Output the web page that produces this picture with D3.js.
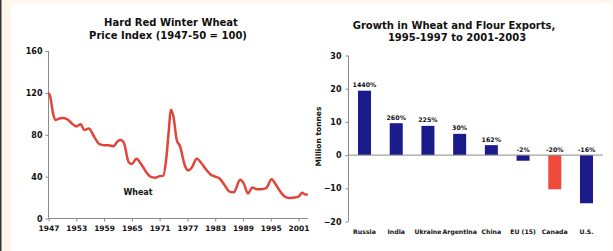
<!DOCTYPE html>
<html>
<head>
<meta charset="utf-8">
<script src="https://cdn.jsdelivr.net/npm/d3@7"></script>
<style>
  html, body { margin: 0; padding: 0; background: #fef6ea; }
  svg { display: block; }
  text { font-family: "DejaVu Sans", Verdana, sans-serif; font-weight: bold; fill: #111; }
</style>
</head>
<body>
<script>
// ---- Data: left chart (Hard Red Winter Wheat price index) ----
const priceYears = [1947, 1947.4, 1948, 1948.5, 1949, 1950, 1951, 1952, 1953, 1954, 1954.7, 1955.7, 1957, 1958, 1959, 1960, 1961, 1962, 1962.6, 1963.3, 1964.3, 1965, 1966, 1967, 1968, 1969, 1970, 1971, 1971.8, 1972.4, 1973, 1973.4, 1974, 1974.7, 1975.4, 1976.5, 1977.2, 1978, 1979, 1980, 1981, 1982, 1983, 1984, 1985, 1986, 1987, 1988.4, 1989.1, 1990.1, 1991, 1992, 1993, 1994, 1995.2, 1996, 1997, 1998, 1999, 2000, 2001, 2001.8, 2002.4, 2003];
const priceValues = [120, 116, 100, 94, 95, 96, 95, 91, 88, 90, 84.5, 86, 77, 71, 70, 70, 69, 74, 75, 72, 54, 52, 57, 52, 45, 40, 39, 40.5, 41, 56, 85, 104, 97, 75, 69, 50, 46, 49, 57, 53, 47, 42, 40, 38, 32, 26, 25, 37, 34, 24, 29.5, 28, 28, 29, 37.5, 33, 26, 21, 19.5, 20, 21, 24.5, 23, 23];
const priceTicksY = [0, 40, 80, 120, 160];
const priceTicksX = [1947, 1953, 1959, 1965, 1971, 1977, 1983, 1989, 1995, 2001];

// ---- Data: right chart (export growth) ----
const countries = ["Russia", "India", "Ukraine", "Argentina", "China", "EU (15)", "Canada", "U.S."];
const exportChange = [19.4, 9.6, 8.8, 6.4, 3.0, -1.7, -10.3, -14.5];
const pctLabels = ["1440%", "260%", "225%", "30%", "162%", "-2%", "-20%", "-16%"];
const exportTicksY = [-20, -10, 0, 10, 20, 30];

const W = 613, H = 251;
const svg = d3.select("body").append("svg").attr("width", W).attr("height", H);

// background frame
svg.append("rect").attr("x", 0).attr("y", 0).attr("width", W).attr("height", H).attr("fill", "#fef6ea");
svg.append("rect").attr("x", 0).attr("y", 0).attr("width", 1.5).attr("height", H).attr("fill", "#333");
svg.append("rect").attr("x", 11).attr("y", 3).attr("width", 601).attr("height", H - 3).attr("fill", "#ffffff");

const axisColor = "#8a8a8a";

// ================= LEFT CHART =================
const xL = d3.scaleLinear().domain([1947, 2003]).range([48.5, 307.8]);
const yL = d3.scaleLinear().domain([0, 160]).range([218.5, 51]);

const gL = svg.append("g");
gL.append("text").attr("x", 171).attr("y", 25.5).attr("text-anchor", "middle").attr("font-size", 10).text("Hard Red Winter Wheat");
gL.append("text").attr("x", 168).attr("y", 38.5).attr("text-anchor", "middle").attr("font-size", 10).text("Price Index (1947-50 = 100)");

const axLY = gL.append("g").attr("transform", `translate(${xL(1947)},0)`)
  .call(d3.axisLeft(yL).tickValues(priceTicksY).tickSize(3).tickPadding(3).tickFormat(d3.format("d")));
const axLX = gL.append("g").attr("transform", `translate(0,${yL(0)})`)
  .call(d3.axisBottom(xL).tickValues(priceTicksX).tickSize(3).tickPadding(4).tickFormat(d3.format("d")));
[axLY, axLX].forEach(a => {
  a.select(".domain").attr("stroke", axisColor);
  a.selectAll(".tick line").attr("stroke", axisColor);
  a.selectAll(".tick text").attr("font-family", "DejaVu Sans, sans-serif").attr("font-weight", "bold").attr("fill", "#111");
});
axLY.selectAll(".tick text").attr("font-size", 8);
axLX.selectAll(".tick text").attr("font-size", 7.5);
axLY.select(".domain").attr("d", `M0,${yL(0)}V${yL(160)}`);
axLX.select(".domain").attr("d", `M${xL(1947)},0H${xL(2003)}`);

const line = d3.line().x((d, i) => xL(priceYears[i])).y(d => yL(d)).curve(d3.curveMonotoneX);
gL.append("path").datum(priceValues).attr("d", line)
  .attr("fill", "none").attr("stroke", "#e2443a").attr("stroke-width", 2.5).attr("stroke-linejoin", "round");

gL.append("text").attr("x", 138).attr("y", 194.5).attr("text-anchor", "middle").attr("font-size", 8).text("Wheat");

// ================= RIGHT CHART =================
const xR = d3.scaleBand().domain(countries).range([348.5, 602.5]).paddingInner(0.59).paddingOuter(0.3);
const yR = d3.scaleLinear().domain([-20, 30]).range([221.5, 55.5]);

const gR = svg.append("g");
gR.append("text").attr("x", 454).attr("y", 28.5).attr("text-anchor", "middle").attr("font-size", 10).text("Growth in Wheat and Flour Exports,");
gR.append("text").attr("x", 457).attr("y", 41).attr("text-anchor", "middle").attr("font-size", 10).text("1995-1997 to 2001-2003");

const axRY = gR.append("g").attr("transform", `translate(348.5,0)`)
  .call(d3.axisLeft(yR).tickValues(exportTicksY).tickSize(3).tickPadding(4).tickFormat(d3.format("d")));
axRY.select(".domain").attr("stroke", axisColor).attr("d", `M0,${yR(-20)}V${yR(30)}`);
axRY.selectAll(".tick line").attr("stroke", axisColor);
axRY.selectAll(".tick text").attr("font-family", "DejaVu Sans, sans-serif").attr("font-weight", "bold").attr("font-size", 8).attr("fill", "#111");

gR.append("text").attr("transform", `translate(320.5,136.5) rotate(-90)`).attr("text-anchor", "middle").attr("font-size", 7.5).text("Million tonnes");

gR.selectAll("rect.bar").data(exportChange).enter().append("rect")
  .attr("class", "bar")
  .attr("x", (d, i) => xR(countries[i]))
  .attr("width", xR.bandwidth())
  .attr("y", d => yR(Math.max(0, d)))
  .attr("height", d => Math.abs(yR(d) - yR(0)))
  .attr("fill", (d, i) => countries[i] === "Canada" ? "#ef4a3c" : "#1b1b8c");

// zero line
gR.append("line").attr("x1", 348.5).attr("x2", 603).attr("y1", yR(0)).attr("y2", yR(0)).attr("stroke", axisColor).attr("stroke-width", 1);

gR.selectAll("text.pct").data(pctLabels).enter().append("text")
  .attr("class", "pct")
  .attr("x", (d, i) => xR(countries[i]) + xR.bandwidth() / 2)
  .attr("y", (d, i) => yR(Math.max(0, exportChange[i])) - 3.5)
  .attr("text-anchor", "middle").attr("font-size", 6.3).text(d => d);

gR.selectAll("text.cat").data(countries).enter().append("text")
  .attr("class", "cat")
  .attr("x", d => xR(d) + xR.bandwidth() / 2)
  .attr("y", 234)
  .attr("text-anchor", "middle").attr("font-size", 6.2).text(d => d);
</script>
</body>
</html>
